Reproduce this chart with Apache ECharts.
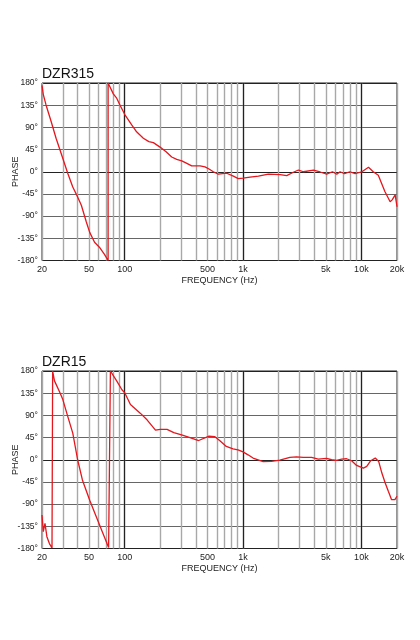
<!DOCTYPE html>
<html><head><meta charset="utf-8">
<script src="https://cdn.jsdelivr.net/npm/echarts@6/dist/echarts.min.js"></script>
<style>html,body{margin:0;padding:0;background:#fff}#c{width:420px;height:640px}</style>
</head><body><div id="c"></div>
<script>
const titles = ['DZR315', 'DZR15'];
const freqTop = [20,20.5,21.6,23.9,26.3,30,33,36.4,40,43,47.4,50.6,55.6,61.1,67.2,72.4,72.4,80.1,85.2,91.3,100.2,114.6,126,143.7,160,174.6,198.8,225,249.5,275,303.5,335,368,433,477,520,561,618,728,828,912,1000,1146,1348,1637,2057,2340,2663,2937,3237,3934,4479,5093,5700,6200,6607,7200,8000,8850,10100,11485,12600,13900,15800,17500,18200,19300,20000];
const phaseTop = [175,157,136,102,68,27,-3,-31,-51,-68,-102,-123,-143,-153,-167,-180,180,158,150,135,116,95,81,68,61,59,50,40,30,25,22,17,12,12,10,5,0,-5,-3,-9,-14,-13,-11,-9,-5,-6,-8,-1,3.5,0,3.5,-0.5,-5,0,-5,0,-4,0,-4,0,9,0,-7,-40,-61,-57,-47,-71];
const freqBottom = [20,20.5,21.2,22,23.1,24.3,24.6,24.6,25.5,28,30,33,36.4,40,43.9,50.6,57.4,65.4,73.1,75.7,75.7,85.5,94.7,100,111.8,136,155,182,200,228,260,307,356,422,516,575,634,722,823,907,1000,1102,1215,1478,1738,2045,2486,2830,3223,3793,4322,5085,5608,6180,6810,7504,8270,9114,10400,11100,12000,13100,14000,14900,15900,16900,18000,18600,19200,20000];
const phaseBottom = [-112,-146,-129,-156,-170,-179,-180,180,160,139,122,88,54,0,-41,-82,-115,-149,-178,-180,180,160,142,136,112,94,80.5,60,61.6,61.6,55,50,45,39,48,47,39,27,22,20,16,10,3.4,-4,-3.4,-0.7,4.7,6,4.7,4.7,1.4,2.7,0,-1.4,1.4,2,-2,-11.5,-17,-13.5,-2,3.4,-3.4,-27,-47,-64,-81,-78,-81,-74];
const gridFreqs = [20,30,40,50,60,70,80,90,100,200,300,400,500,600,700,800,900,1000,2000,3000,4000,5000,6000,7000,8000,9000,10000,20000];
const majorFreqs = [100,1000,10000];
const xTickLabels = [20,50,100,500,1000,5000,10000,20000];
const xName = 'FREQUENCY (Hz)';
const yName = 'PHASE';

const FONT = 'Liberation Sans, Arial, sans-serif';
const tops = [83, 371];
const H = 177.5;
const grids = [], xAxes = [], yAxes = [], series = [], titleOpts = [];
const datasets = [[freqTop, phaseTop], [freqBottom, phaseBottom]];
for (let i = 0; i < 2; i++) {
  grids.push({left: 42, right: 23, top: tops[i], height: H, containLabel: false, outerBoundsMode: 'none',
    show: true, borderColor: '#222', borderWidth: 1, backgroundColor: 'transparent'});
  titleOpts.push({text: titles[i], left: 37, top: tops[i] - 21, textStyle: {fontFamily: FONT, fontSize: 14, fontWeight: 'normal', color: '#111'}});
  xAxes.push({type: 'log', gridIndex: i, min: 20, max: 20000, logBase: 10,
    name: xName, nameLocation: 'middle', nameGap: 16, nameMoveOverlap: false,
    nameTextStyle: {fontFamily: FONT, fontSize: 9, color: '#222'},
    axisLine: {show: false}, axisTick: {show: false, customValues: gridFreqs},
    axisLabel: {customValues: xTickLabels, fontFamily: FONT, fontSize: 9, color: '#222', margin: 5,
      formatter: v => v >= 1000 ? (v / 1000) + 'k' : String(v)},
    splitLine: {show: true, lineStyle: {color: '#a8a8a8', width: 1.4}}});
  xAxes.push({type: 'log', gridIndex: i, min: 20, max: 20000, logBase: 10,
    axisLine: {show: false}, axisTick: {show: false, customValues: majorFreqs},
    axisLabel: {show: false},
    splitLine: {show: true, lineStyle: {color: '#222', width: 1.2}}});
  yAxes.push({type: 'value', gridIndex: i, min: -180, max: 180, interval: 45,
    name: yName, nameLocation: 'middle', nameGap: 22, nameRotate: 90, nameMoveOverlap: false,
    nameTextStyle: {fontFamily: FONT, fontSize: 9, color: '#222'},
    axisLine: {show: false}, axisTick: {show: false},
    axisLabel: {fontFamily: FONT, fontSize: 8.5, color: '#222', margin: 4, formatter: v => v + '°'},
    splitLine: {show: true, lineStyle: {color: '#666', width: 1}}});
  yAxes.push({type: 'value', gridIndex: i, min: -180, max: 180, interval: 180,
    axisLine: {show: false}, axisTick: {show: false}, axisLabel: {show: false},
    splitLine: {show: true, lineStyle: {color: '#222', width: 1.2}}});
  const [fr, ph] = datasets[i];
  series.push({type: 'line', xAxisIndex: 2 * i, yAxisIndex: 2 * i, data: fr.map((f, k) => [f, ph[k]]),
    showSymbol: false, symbol: 'none', smooth: false, clip: true,
    lineStyle: {color: '#e3171d', width: 1.3}, silent: true, animation: false});
}
const chart = echarts.init(document.getElementById('c'), null, {renderer: 'canvas'});
chart.setOption({backgroundColor: '#fff', animation: false, title: titleOpts, grid: grids, xAxis: xAxes, yAxis: yAxes, series: series});
</script></body></html>
